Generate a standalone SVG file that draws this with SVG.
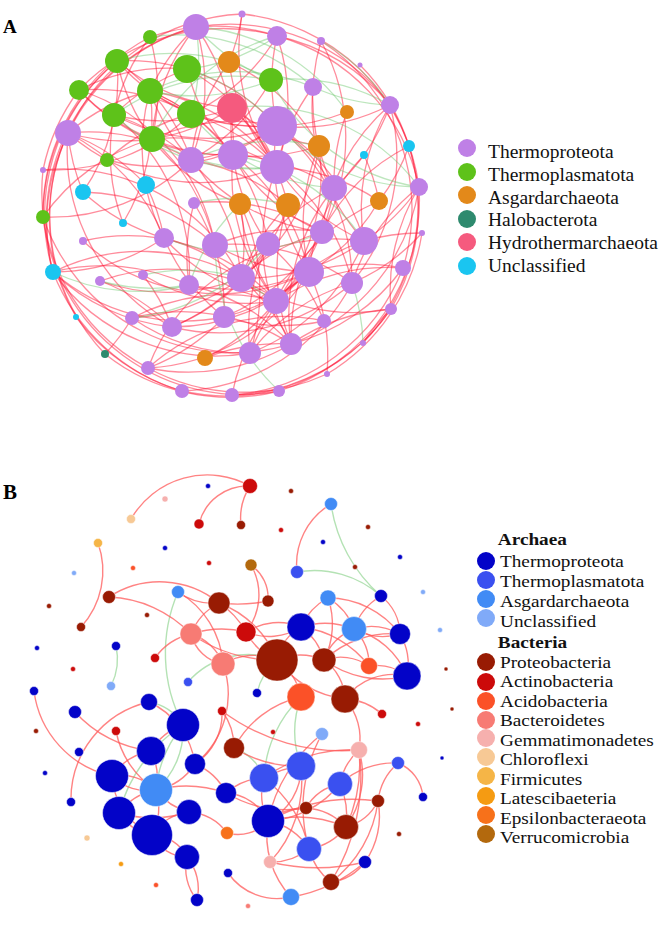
<svg xmlns="http://www.w3.org/2000/svg" width="661" height="929" viewBox="0 0 661 929">
<style>
.ra path{fill:none;stroke:#ff1a3a;stroke-opacity:.5;stroke-width:1.3}
.ga path{fill:none;stroke:#6cc86c;stroke-opacity:.45;stroke-width:1.3}
.rb path{fill:none;stroke:#ff5a5a;stroke-opacity:.75;stroke-width:1.4}
.gb path{fill:none;stroke:#9bd89b;stroke-opacity:.75;stroke-width:1.4}
.pu{fill:#bf80e6}.gr{fill:#5ec21a}.or{fill:#e3891a}.hb{fill:#2e8a6e}.hy{fill:#f55a7e}.cy{fill:#1ac5f0}
.tp{fill:#0303c8}.tpl{fill:#3a50f0}.asg{fill:#418bf5}.unc{fill:#80aaf8}.pro{fill:#981b03}.act{fill:#cc0a0a}.aci{fill:#fb5128}.bac{fill:#f77b74}.gem{fill:#f6b0ae}.chl{fill:#f7c995}.fir{fill:#f5b547}.lat{fill:#f59b12}.eps{fill:#f7711a}.ver{fill:#b3690d}
#nodesB circle{stroke:#ffffff;stroke-opacity:.6;stroke-width:.8}
text{font-family:"Liberation Serif","Times New Roman",serif;fill:#111}
.lbl{font-weight:bold;fill:#000}
.lg{font-size:19.5px}
.lgb{font-size:17.5px}
.lh{font-size:17.5px;font-weight:bold}
</style>
<rect width="661" height="929" fill="#ffffff"/>
<text class="lbl" x="3" y="33" font-size="19">A</text>
<text class="lbl" x="3" y="499" font-size="21">B</text>
<g id="connectors">
<g class="ra">
<path d="M53 272A200 200 0 0 1 196 27"/><path d="M43 217A200 200 0 0 1 150 37"/><path d="M53 272A200 200 0 0 1 117 61"/><path d="M68 133A200 200 0 0 1 242 14"/><path d="M79 90A200 200 0 0 1 277 36"/><path d="M105 354A200 200 0 0 1 68 133"/><path d="M182 391A200 200 0 0 1 53 272"/><path d="M279 391A200 200 0 0 1 43 217"/><path d="M148 368A200 200 0 0 1 43 170"/><path d="M76 317A200 200 0 0 1 68 133"/><path d="M196 27A200 200 0 0 1 390 105"/><path d="M277 36A200 200 0 0 1 419 187"/><path d="M321 41A200 200 0 0 1 403 268"/><path d="M390 105A200 200 0 0 1 391 309"/><path d="M419 187A200 200 0 0 1 279 391"/><path d="M403 268A200 200 0 0 1 232 395"/><path d="M391 309A200 200 0 0 1 182 391"/><path d="M422 233A200 200 0 0 1 327 374"/><path d="M409 146A200 200 0 0 1 363 343"/><path d="M360 65A200 200 0 0 1 409 146"/><path d="M277 36A200 200 0 0 1 390 105"/><path d="M68 133A200 200 0 0 1 196 27"/><path d="M43 170A200 200 0 0 1 79 90"/><path d="M53 272A200 200 0 0 1 68 133"/><path d="M250 353A200 200 0 0 1 53 272"/><path d="M291 344A200 200 0 0 1 43 217"/><path d="M279 391A200 200 0 0 1 105 354"/><path d="M182 391A200 200 0 0 1 76 317"/><path d="M242 14A200 200 0 0 1 419 187"/><path d="M150 37A200 200 0 0 1 277 36"/><path d="M43 217A200 200 0 0 1 117 61"/><path d="M327 374A200 200 0 0 1 148 368"/>
<path d="M68 133A200 200 0 0 1 150 91"/><path d="M68 133A200 200 0 0 0 152 139"/><path d="M68 133A200 200 0 0 1 191 160"/><path d="M68 133A200 200 0 0 0 277 167"/><path d="M68 133A200 200 0 0 1 164 238"/><path d="M68 133A200 200 0 0 0 172 327"/><path d="M79 90A200 200 0 0 1 191 114"/><path d="M79 90A200 200 0 0 0 152 139"/><path d="M79 90A200 200 0 0 1 187 69"/><path d="M79 90A200 200 0 0 0 233 155"/><path d="M79 90A200 200 0 0 1 215 245"/><path d="M117 61A200 200 0 0 0 191 114"/><path d="M117 61A200 200 0 0 1 191 160"/><path d="M117 61A200 200 0 0 0 232 108"/><path d="M117 61A200 200 0 0 1 277 126"/><path d="M117 61A200 200 0 0 0 152 139"/><path d="M150 91A200 200 0 0 1 191 114"/><path d="M150 91A200 200 0 0 0 191 160"/><path d="M150 91A200 200 0 0 1 233 155"/><path d="M150 91A200 200 0 0 0 277 126"/><path d="M150 91A200 200 0 0 1 277 167"/><path d="M150 91A200 200 0 0 0 164 238"/><path d="M114 115A200 200 0 0 1 187 69"/><path d="M114 115A200 200 0 0 0 232 108"/><path d="M114 115A200 200 0 0 1 191 160"/><path d="M114 115A200 200 0 0 0 277 126"/><path d="M114 115A200 200 0 0 1 189 285"/><path d="M152 139A200 200 0 0 0 232 108"/><path d="M152 139A200 200 0 0 1 277 126"/><path d="M152 139A200 200 0 0 0 233 155"/><path d="M152 139A200 200 0 0 1 277 167"/><path d="M152 139A200 200 0 0 0 240 204"/><path d="M152 139A200 200 0 0 1 215 245"/><path d="M191 114A200 200 0 0 0 277 126"/><path d="M191 114A200 200 0 0 1 277 167"/><path d="M191 114A200 200 0 0 0 277 36"/><path d="M191 114A200 200 0 0 1 268 244"/><path d="M191 160A200 200 0 0 0 277 126"/><path d="M191 160A200 200 0 0 1 288 205"/><path d="M191 160A200 200 0 0 0 322 232"/><path d="M191 160A200 200 0 0 1 241 278"/><path d="M233 155A200 200 0 0 0 319 146"/><path d="M233 155A200 200 0 0 1 334 188"/><path d="M233 155A200 200 0 0 0 322 232"/><path d="M233 155A200 200 0 0 1 309 272"/><path d="M233 155A200 200 0 0 0 276 301"/><path d="M232 108A200 200 0 0 1 277 167"/><path d="M232 108A200 200 0 0 0 319 146"/><path d="M232 108A200 200 0 0 1 288 205"/><path d="M232 108A200 200 0 0 0 268 244"/><path d="M277 126A200 200 0 0 1 334 188"/><path d="M277 126A200 200 0 0 0 390 105"/><path d="M277 126A200 200 0 0 1 364 241"/><path d="M277 126A200 200 0 0 0 309 272"/><path d="M277 126A200 200 0 0 1 352 283"/><path d="M277 167A200 200 0 0 0 364 241"/><path d="M277 167A200 200 0 0 1 352 283"/><path d="M277 167A200 200 0 0 0 291 344"/><path d="M277 167A200 200 0 0 1 379 201"/><path d="M196 27A200 200 0 0 0 150 91"/><path d="M196 27A200 200 0 0 1 191 160"/><path d="M196 27A200 200 0 0 0 152 139"/><path d="M196 27A200 200 0 0 1 233 155"/><path d="M150 37A200 200 0 0 0 114 115"/><path d="M150 37A200 200 0 0 1 152 139"/><path d="M229 62A200 200 0 0 0 277 167"/><path d="M229 62A200 200 0 0 1 319 146"/><path d="M277 36A200 200 0 0 0 277 126"/><path d="M277 36A200 200 0 0 1 277 167"/><path d="M321 41A200 200 0 0 0 334 188"/><path d="M321 41A200 200 0 0 1 322 232"/><path d="M313 87A200 200 0 0 0 364 241"/><path d="M390 105A200 200 0 0 1 334 188"/><path d="M390 105A200 200 0 0 0 364 241"/><path d="M390 105A200 200 0 0 1 352 283"/><path d="M390 105A200 200 0 0 0 322 232"/><path d="M419 187A200 200 0 0 1 364 241"/><path d="M419 187A200 200 0 0 0 352 283"/><path d="M419 187A200 200 0 0 1 291 344"/><path d="M419 187A200 200 0 0 0 391 309"/><path d="M409 146A200 200 0 0 1 379 201"/><path d="M409 146A200 200 0 0 0 322 232"/><path d="M364 155A200 200 0 0 1 379 201"/><path d="M364 155A200 200 0 0 0 309 272"/><path d="M319 146A200 200 0 0 1 241 278"/><path d="M319 146A200 200 0 0 0 309 272"/><path d="M319 146A200 200 0 0 1 276 301"/><path d="M334 188A200 200 0 0 0 241 278"/><path d="M334 188A200 200 0 0 1 276 301"/><path d="M334 188A200 200 0 0 0 291 344"/><path d="M240 204A200 200 0 0 1 241 278"/><path d="M240 204A200 200 0 0 0 276 301"/><path d="M240 204A200 200 0 0 1 250 353"/><path d="M288 205A200 200 0 0 0 241 278"/><path d="M288 205A200 200 0 0 1 172 327"/><path d="M288 205A200 200 0 0 0 291 344"/><path d="M379 201A200 200 0 0 1 309 272"/><path d="M379 201A200 200 0 0 0 276 301"/><path d="M268 244A200 200 0 0 1 172 327"/><path d="M268 244A200 200 0 0 0 250 353"/><path d="M268 244A200 200 0 0 1 324 321"/><path d="M322 232A200 200 0 0 0 241 278"/><path d="M322 232A200 200 0 0 1 224 317"/><path d="M322 232A200 200 0 0 0 291 344"/><path d="M364 241A200 200 0 0 1 241 278"/><path d="M364 241A200 200 0 0 0 276 301"/><path d="M364 241A200 200 0 0 1 250 353"/><path d="M403 268A200 200 0 0 0 309 272"/><path d="M403 268A200 200 0 0 1 291 344"/><path d="M403 268A200 200 0 0 0 276 301"/><path d="M241 278A200 200 0 0 1 291 344"/><path d="M241 278A200 200 0 0 0 391 309"/><path d="M309 272A200 200 0 0 1 224 317"/><path d="M309 272A200 200 0 0 0 250 353"/><path d="M309 272A200 200 0 0 1 148 368"/><path d="M352 283A200 200 0 0 0 250 353"/><path d="M352 283A200 200 0 0 1 172 327"/><path d="M276 301A200 200 0 0 0 132 318"/><path d="M276 301A200 200 0 0 1 205 358"/><path d="M391 309A200 200 0 0 0 291 344"/><path d="M324 321A200 200 0 0 1 224 317"/><path d="M324 321A200 200 0 0 0 148 368"/><path d="M291 344A200 200 0 0 1 148 368"/><path d="M291 344A200 200 0 0 0 205 358"/><path d="M250 353A200 200 0 0 1 132 318"/><path d="M194 203A200 200 0 0 0 189 285"/><path d="M194 203A200 200 0 0 1 224 317"/><path d="M164 238A200 200 0 0 0 224 317"/><path d="M164 238A200 200 0 0 1 241 278"/><path d="M164 238A200 200 0 0 0 276 301"/><path d="M215 245A200 200 0 0 1 322 232"/><path d="M215 245A200 200 0 0 0 309 272"/><path d="M215 245A200 200 0 0 1 352 283"/><path d="M53 272A200 200 0 0 0 164 238"/><path d="M53 272A200 200 0 0 1 189 285"/><path d="M53 272A200 200 0 0 0 172 327"/><path d="M53 272A200 200 0 0 1 241 278"/><path d="M53 272A200 200 0 0 0 224 317"/><path d="M100 281A200 200 0 0 1 172 327"/><path d="M100 281A200 200 0 0 0 241 278"/><path d="M143 275A200 200 0 0 1 172 327"/><path d="M189 285A200 200 0 0 0 309 272"/><path d="M189 285A200 200 0 0 1 291 344"/><path d="M132 318A200 200 0 0 0 241 278"/><path d="M132 318A200 200 0 0 1 291 344"/><path d="M172 327A200 200 0 0 0 309 272"/><path d="M224 317A200 200 0 0 1 148 368"/><path d="M105 354A200 200 0 0 0 132 318"/><path d="M83 192A200 200 0 0 1 68 133"/><path d="M83 192A200 200 0 0 0 164 238"/><path d="M83 192A200 200 0 0 1 215 245"/><path d="M83 192A200 200 0 0 0 117 61"/><path d="M146 185A200 200 0 0 1 164 238"/><path d="M146 185A200 200 0 0 0 68 133"/><path d="M43 217A200 200 0 0 1 152 139"/><path d="M43 217A200 200 0 0 0 191 160"/><path d="M123 223A200 200 0 0 1 114 115"/><path d="M123 223A200 200 0 0 0 150 91"/><path d="M83 241A200 200 0 0 1 276 301"/><path d="M83 241A200 200 0 0 0 309 272"/><path d="M43 170A200 200 0 0 1 241 278"/><path d="M43 170A200 200 0 0 0 191 114"/><path d="M242 14A200 200 0 0 1 229 62"/><path d="M242 14A200 200 0 0 0 277 167"/><path d="M422 233A200 200 0 0 1 352 283"/><path d="M422 233A200 200 0 0 0 364 241"/><path d="M363 343A200 200 0 0 1 391 309"/><path d="M327 374A200 200 0 0 0 309 272"/><path d="M107 160A200 200 0 0 1 191 114"/><path d="M107 160A200 200 0 0 0 277 126"/><path d="M148 368A200 200 0 0 1 364 241"/><path d="M182 391A200 200 0 0 0 352 283"/><path d="M232 395A200 200 0 0 1 309 272"/><path d="M232 395A200 200 0 0 0 391 309"/><path d="M194 203A200 200 0 0 1 322 232"/><path d="M143 275A200 200 0 0 0 276 301"/><path d="M100 281A200 200 0 0 1 276 301"/><path d="M313 87A200 200 0 0 0 277 167"/><path d="M347 112A200 200 0 0 1 277 126"/><path d="M347 112A200 200 0 0 0 334 188"/><path d="M271 80A200 200 0 0 1 191 160"/><path d="M187 69A200 200 0 0 0 233 155"/><path d="M187 69A200 200 0 0 1 277 167"/><path d="M229 62A200 200 0 0 0 191 160"/>
</g>
<g class="ga">
<path d="M196 27A200 200 0 0 1 191 114"/><path d="M196 27A200 200 0 0 0 271 80"/><path d="M277 36A200 200 0 0 0 152 139"/><path d="M277 36A200 200 0 0 1 187 69"/><path d="M271 80A200 200 0 0 0 114 115"/><path d="M271 80A200 200 0 0 1 150 91"/><path d="M271 80A200 200 0 0 1 390 105"/><path d="M313 87A200 200 0 0 0 390 105"/><path d="M321 41A200 200 0 0 1 390 105"/><path d="M271 80A200 200 0 0 0 419 187"/><path d="M187 69A200 200 0 0 1 277 126"/><path d="M191 114A200 200 0 0 0 334 188"/><path d="M152 139A200 200 0 0 0 277 167"/><path d="M191 160A200 200 0 0 1 319 146"/><path d="M233 155A200 200 0 0 1 364 241"/><path d="M232 108A200 200 0 0 1 419 187"/><path d="M277 126A200 200 0 0 0 419 187"/><path d="M53 272A200 200 0 0 0 189 285"/><path d="M114 115A200 200 0 0 0 277 167"/><path d="M164 238A200 200 0 0 0 322 232"/><path d="M189 285A200 200 0 0 1 240 204"/><path d="M132 318A200 200 0 0 0 268 244"/><path d="M150 91A200 200 0 0 1 313 87"/><path d="M117 61A200 200 0 0 1 271 80"/><path d="M150 37A200 200 0 0 1 313 87"/><path d="M196 27A200 200 0 0 1 347 112"/><path d="M241 278A200 200 0 0 0 276 301"/><path d="M194 203A200 200 0 0 1 288 205"/><path d="M215 245A200 200 0 0 0 279 391"/><path d="M352 283A200 200 0 0 1 363 343"/><path d="M143 275A200 200 0 0 1 241 278"/><path d="M100 281A200 200 0 0 0 189 285"/>
</g>
<g class="gb">
<path d="M331 504A150 150 0 0 0 381 596"/><path d="M297 572A100 100 0 0 1 381 596"/><path d="M178 592A155 155 0 0 0 183 725"/><path d="M116 646A60 60 0 0 1 111 686"/><path d="M188 682A80 80 0 0 1 277 660"/><path d="M257 693A60 60 0 0 1 277 660"/><path d="M301 697A120 120 0 0 0 264 778"/><path d="M301 697A100 100 0 0 0 301 766"/><path d="M234 748A50 50 0 0 1 264 778"/><path d="M149 702A50 50 0 0 1 183 725"/><path d="M183 725A80 80 0 0 1 156 790"/><path d="M183 725A120 120 0 0 0 156 790"/><path d="M183 725A150 150 0 0 0 119 813"/>
</g>
<g class="rb">
<path d="M131 519A88 88 0 0 1 250 486"/><path d="M199 524A50 50 0 0 1 250 486"/><path d="M250 486A60 60 0 0 0 241 525"/><path d="M98 543A83 83 0 0 1 81 627"/><path d="M109 597A93 93 0 0 1 219 603"/><path d="M109 597A120 120 0 0 1 191 634"/><path d="M178 592A60 60 0 0 0 219 603"/><path d="M178 592A90 90 0 0 1 223 664"/><path d="M191 634A60 60 0 0 0 155 658"/><path d="M191 634A60 60 0 0 1 219 603"/><path d="M191 634A40 40 0 0 0 223 664"/><path d="M191 634A50 50 0 0 1 223 664"/><path d="M191 634A100 100 0 0 1 246 632"/><path d="M219 603A80 80 0 0 1 246 632"/><path d="M251 565A40 40 0 0 1 268 601"/><path d="M251 565A60 60 0 0 1 246 632"/><path d="M219 603A150 150 0 0 0 268 601"/><path d="M331 504A70 70 0 0 0 297 572"/><path d="M328 598A60 60 0 0 0 301 627"/><path d="M328 598A60 60 0 0 1 354 629"/><path d="M328 598A80 80 0 0 1 324 660"/><path d="M328 598A90 90 0 0 1 400 634"/><path d="M381 596A50 50 0 0 1 400 634"/><path d="M381 596A60 60 0 0 0 354 629"/><path d="M246 632A60 60 0 0 1 301 627"/><path d="M246 632A60 60 0 0 0 301 627"/><path d="M246 632A60 60 0 0 0 277 660"/><path d="M301 627A80 80 0 0 1 354 629"/><path d="M301 627A60 60 0 0 1 324 660"/><path d="M301 627A50 50 0 0 0 277 660"/><path d="M301 627A100 100 0 0 1 369 666"/><path d="M354 629A60 60 0 0 1 400 634"/><path d="M354 629A60 60 0 0 0 400 634"/><path d="M354 629A50 50 0 0 1 369 666"/><path d="M354 629A80 80 0 0 1 407 676"/><path d="M354 629A50 50 0 0 0 324 660"/><path d="M400 634A60 60 0 0 1 407 676"/><path d="M400 634A100 100 0 0 0 324 660"/><path d="M277 660A60 60 0 0 1 324 660"/><path d="M277 660A60 60 0 0 1 301 697"/><path d="M277 660A60 60 0 0 0 223 664"/><path d="M277 660A100 100 0 0 0 345 699"/><path d="M324 660A50 50 0 0 1 369 666"/><path d="M324 660A50 50 0 0 1 345 699"/><path d="M369 666A50 50 0 0 1 407 676"/><path d="M324 660A100 100 0 0 0 407 676"/><path d="M219 603A100 100 0 0 1 277 660"/><path d="M223 664A90 90 0 0 1 195 764"/><path d="M34 691A100 100 0 0 0 112 776"/><path d="M75 712A120 120 0 0 0 151 751"/><path d="M149 702A100 100 0 0 0 71 802"/><path d="M149 702A80 80 0 0 1 195 764"/><path d="M116 731A90 90 0 0 0 156 790"/><path d="M151 751A60 60 0 0 0 112 776"/><path d="M151 751A60 60 0 0 1 156 790"/><path d="M112 776A50 50 0 0 1 156 790"/><path d="M112 776A50 50 0 0 0 156 790"/><path d="M112 776A70 70 0 0 0 152 835"/><path d="M156 790A120 120 0 0 1 226 793"/><path d="M156 790A60 60 0 0 0 189 812"/><path d="M156 790A60 60 0 0 1 152 835"/><path d="M119 813A50 50 0 0 0 152 835"/><path d="M189 812A50 50 0 0 1 227 833"/><path d="M189 812A50 50 0 0 0 152 835"/><path d="M152 835A40 40 0 0 1 187 857"/><path d="M152 835A40 40 0 0 0 187 857"/><path d="M187 857A50 50 0 0 1 197 900"/><path d="M187 857A50 50 0 0 0 197 900"/><path d="M195 764A60 60 0 0 1 156 790"/><path d="M195 764A60 60 0 0 1 226 793"/><path d="M222 711A60 60 0 0 1 195 764"/><path d="M222 711A60 60 0 0 1 234 748"/><path d="M183 725A60 60 0 0 0 151 751"/><path d="M119 813A120 120 0 0 0 189 812"/><path d="M119 813A60 60 0 0 1 156 790"/><path d="M222 711A200 200 0 0 0 359 750"/><path d="M301 697A100 100 0 0 0 234 748"/><path d="M345 699A60 60 0 0 1 359 750"/><path d="M345 699A60 60 0 0 1 382 714"/><path d="M345 699A60 60 0 0 1 407 676"/><path d="M234 748A120 120 0 0 0 301 766"/><path d="M322 734A150 150 0 0 0 309 849"/><path d="M322 734A150 150 0 0 0 268 821"/><path d="M359 750A60 60 0 0 0 340 784"/><path d="M359 750A90 90 0 0 1 346 827"/><path d="M359 750A150 150 0 0 1 346 827"/><path d="M359 750A200 200 0 0 1 331 882"/><path d="M359 750A150 150 0 0 0 264 778"/><path d="M398 763A40 40 0 0 1 423 797"/><path d="M398 763A60 60 0 0 0 378 801"/><path d="M398 763A80 80 0 0 0 340 784"/><path d="M378 801A50 50 0 0 1 346 827"/><path d="M378 801A80 80 0 0 1 365 862"/><path d="M378 801A120 120 0 0 1 331 882"/><path d="M378 801A180 180 0 0 0 268 821"/><path d="M306 808A60 60 0 0 0 268 821"/><path d="M306 808A60 60 0 0 1 346 827"/><path d="M306 808A50 50 0 0 1 340 784"/><path d="M268 821A40 40 0 0 1 227 833"/><path d="M268 821A50 50 0 0 0 226 793"/><path d="M268 821A60 60 0 0 1 264 778"/><path d="M268 821A60 60 0 0 0 301 766"/><path d="M268 821A60 60 0 0 1 309 849"/><path d="M268 821A90 90 0 0 0 291 897"/><path d="M268 821A120 120 0 0 1 346 827"/><path d="M268 821A100 100 0 0 0 340 784"/><path d="M226 793A60 60 0 0 1 264 778"/><path d="M226 793A120 120 0 0 0 306 808"/><path d="M309 849A60 60 0 0 1 270 862"/><path d="M270 862A200 200 0 0 0 365 862"/><path d="M309 849A60 60 0 0 0 346 827"/><path d="M309 849A60 60 0 0 0 331 882"/><path d="M270 862A120 120 0 0 0 301 766"/><path d="M228 873A60 60 0 0 0 291 897"/><path d="M331 882A50 50 0 0 0 365 862"/><path d="M291 897A150 150 0 0 0 365 862"/><path d="M264 778A100 100 0 0 1 301 766"/><path d="M264 778A120 120 0 0 1 309 849"/><path d="M340 784A80 80 0 0 1 346 827"/><path d="M191 634A150 150 0 0 0 277 660"/>
</g>
</g>
<g id="nodesA">
<g id="a1"><circle class="pu" cx="196" cy="27" r="13"/></g>
<g id="a2"><circle class="gr" cx="150" cy="37" r="7"/></g>
<g id="a3"><circle class="gr" cx="117" cy="61" r="12"/></g>
<g id="a4"><circle class="gr" cx="187" cy="69" r="14"/></g>
<g id="a5"><circle class="or" cx="229" cy="62" r="11"/></g>
<g id="a6"><circle class="gr" cx="79" cy="90" r="10"/></g>
<g id="a7"><circle class="gr" cx="150" cy="91" r="13"/></g>
<g id="a8"><circle class="hy" cx="232" cy="108" r="15"/></g>
<g id="a9"><circle class="gr" cx="114" cy="115" r="12"/></g>
<g id="a10"><circle class="gr" cx="191" cy="114" r="14"/></g>
<g id="a11"><circle class="pu" cx="68" cy="133" r="13"/></g>
<g id="a12"><circle class="gr" cx="152" cy="139" r="13"/></g>
<g id="a13"><circle class="gr" cx="107" cy="160" r="7"/></g>
<g id="a14"><circle class="pu" cx="191" cy="160" r="13"/></g>
<g id="a15"><circle class="pu" cx="233" cy="155" r="15"/></g>
<g id="a16"><circle class="pu" cx="43" cy="170" r="3"/></g>
<g id="a17"><circle class="cy" cx="83" cy="192" r="8"/></g>
<g id="a18"><circle class="cy" cx="146" cy="185" r="9"/></g>
<g id="a19"><circle class="pu" cx="242" cy="14" r="3.5"/></g>
<g id="a20"><circle class="pu" cx="277" cy="36" r="10"/></g>
<g id="a21"><circle class="pu" cx="321" cy="41" r="4"/></g>
<g id="a22"><circle class="pu" cx="360" cy="65" r="2.5"/></g>
<g id="a23"><circle class="gr" cx="271" cy="80" r="12"/></g>
<g id="a24"><circle class="pu" cx="313" cy="87" r="9"/></g>
<g id="a25"><circle class="or" cx="347" cy="112" r="7"/></g>
<g id="a26"><circle class="pu" cx="390" cy="105" r="9"/></g>
<g id="a27"><circle class="pu" cx="277" cy="126" r="20"/></g>
<g id="a28"><circle class="or" cx="319" cy="146" r="11"/></g>
<g id="a29"><circle class="cy" cx="409" cy="146" r="6"/></g>
<g id="a30"><circle class="cy" cx="364" cy="155" r="4"/></g>
<g id="a31"><circle class="pu" cx="277" cy="167" r="17"/></g>
<g id="a32"><circle class="pu" cx="334" cy="188" r="13"/></g>
<g id="a33"><circle class="pu" cx="419" cy="187" r="9"/></g>
<g id="a34"><circle class="gr" cx="43" cy="217" r="7"/></g>
<g id="a35"><circle class="cy" cx="123" cy="223" r="4"/></g>
<g id="a36"><circle class="pu" cx="194" cy="203" r="6"/></g>
<g id="a37"><circle class="pu" cx="83" cy="241" r="4"/></g>
<g id="a38"><circle class="pu" cx="164" cy="238" r="10"/></g>
<g id="a39"><circle class="pu" cx="215" cy="245" r="13"/></g>
<g id="a40"><circle class="cy" cx="53" cy="272" r="8"/></g>
<g id="a41"><circle class="pu" cx="100" cy="281" r="5"/></g>
<g id="a42"><circle class="pu" cx="143" cy="275" r="5"/></g>
<g id="a43"><circle class="pu" cx="189" cy="285" r="10"/></g>
<g id="a44"><circle class="cy" cx="76" cy="317" r="3"/></g>
<g id="a45"><circle class="pu" cx="132" cy="318" r="7"/></g>
<g id="a46"><circle class="pu" cx="172" cy="327" r="10"/></g>
<g id="a47"><circle class="pu" cx="224" cy="317" r="11"/></g>
<g id="a48"><circle class="hb" cx="105" cy="354" r="4"/></g>
<g id="a49"><circle class="or" cx="205" cy="358" r="8"/></g>
<g id="a50"><circle class="pu" cx="148" cy="368" r="7"/></g>
<g id="a51"><circle class="pu" cx="182" cy="391" r="7"/></g>
<g id="a52"><circle class="or" cx="240" cy="204" r="11"/></g>
<g id="a53"><circle class="or" cx="288" cy="205" r="12"/></g>
<g id="a54"><circle class="or" cx="379" cy="201" r="9"/></g>
<g id="a55"><circle class="pu" cx="422" cy="233" r="3"/></g>
<g id="a56"><circle class="pu" cx="268" cy="244" r="12"/></g>
<g id="a57"><circle class="pu" cx="322" cy="232" r="12"/></g>
<g id="a58"><circle class="pu" cx="364" cy="241" r="14"/></g>
<g id="a59"><circle class="pu" cx="403" cy="268" r="8"/></g>
<g id="a60"><circle class="pu" cx="241" cy="278" r="14"/></g>
<g id="a61"><circle class="pu" cx="309" cy="272" r="15"/></g>
<g id="a62"><circle class="pu" cx="352" cy="283" r="11"/></g>
<g id="a63"><circle class="pu" cx="276" cy="301" r="13"/></g>
<g id="a64"><circle class="pu" cx="391" cy="309" r="6"/></g>
<g id="a65"><circle class="pu" cx="324" cy="321" r="7"/></g>
<g id="a66"><circle class="pu" cx="363" cy="343" r="3"/></g>
<g id="a67"><circle class="pu" cx="291" cy="344" r="11"/></g>
<g id="a68"><circle class="pu" cx="250" cy="353" r="11"/></g>
<g id="a69"><circle class="pu" cx="327" cy="374" r="3"/></g>
<g id="a70"><circle class="pu" cx="279" cy="391" r="6"/></g>
<g id="a71"><circle class="pu" cx="232" cy="395" r="7"/></g>
</g>
<g id="nodesB">
<g id="b1"><circle class="tp" cx="208" cy="486" r="2.5"/></g>
<g id="b2"><circle class="gem" cx="165" cy="499" r="3"/></g>
<g id="b3"><circle class="chl" cx="131" cy="519" r="4.5"/></g>
<g id="b4"><circle class="act" cx="199" cy="524" r="5"/></g>
<g id="b5"><circle class="fir" cx="98" cy="543" r="4.5"/></g>
<g id="b6"><circle class="tp" cx="165" cy="548" r="2.5"/></g>
<g id="b7"><circle class="aci" cx="133" cy="568" r="2.5"/></g>
<g id="b8"><circle class="act" cx="209" cy="563" r="2.5"/></g>
<g id="b9"><circle class="unc" cx="74" cy="573" r="2.5"/></g>
<g id="b10"><circle class="pro" cx="109" cy="597" r="6.5"/></g>
<g id="b11"><circle class="asg" cx="178" cy="592" r="6.5"/></g>
<g id="b12"><circle class="pro" cx="219" cy="603" r="11"/></g>
<g id="b13"><circle class="pro" cx="49" cy="606" r="2.5"/></g>
<g id="b14"><circle class="pro" cx="147" cy="615" r="2.5"/></g>
<g id="b15"><circle class="pro" cx="81" cy="627" r="4.5"/></g>
<g id="b16"><circle class="bac" cx="191" cy="634" r="11"/></g>
<g id="b17"><circle class="tp" cx="116" cy="646" r="4.5"/></g>
<g id="b18"><circle class="tp" cx="37" cy="648" r="2.5"/></g>
<g id="b19"><circle class="act" cx="155" cy="658" r="4.5"/></g>
<g id="b20"><circle class="bac" cx="223" cy="664" r="12"/></g>
<g id="b21"><circle class="act" cx="73" cy="669" r="2.5"/></g>
<g id="b22"><circle class="tpl" cx="188" cy="682" r="4.5"/></g>
<g id="b23"><circle class="unc" cx="111" cy="686" r="4.5"/></g>
<g id="b24"><circle class="tp" cx="34" cy="691" r="4.5"/></g>
<g id="b25"><circle class="act" cx="250" cy="486" r="7.5"/></g>
<g id="b26"><circle class="pro" cx="291" cy="491" r="2.5"/></g>
<g id="b27"><circle class="pro" cx="241" cy="525" r="4.5"/></g>
<g id="b28"><circle class="act" cx="281" cy="530" r="2.5"/></g>
<g id="b29"><circle class="asg" cx="331" cy="504" r="6.5"/></g>
<g id="b30"><circle class="pro" cx="368" cy="527" r="2.5"/></g>
<g id="b31"><circle class="tp" cx="323" cy="542" r="2.5"/></g>
<g id="b32"><circle class="tp" cx="400" cy="557" r="2.5"/></g>
<g id="b33"><circle class="ver" cx="251" cy="565" r="6"/></g>
<g id="b34"><circle class="tpl" cx="297" cy="572" r="6.5"/></g>
<g id="b35"><circle class="pro" cx="355" cy="567" r="2.5"/></g>
<g id="b36"><circle class="pro" cx="268" cy="601" r="6"/></g>
<g id="b37"><circle class="asg" cx="328" cy="598" r="8"/></g>
<g id="b38"><circle class="tp" cx="381" cy="596" r="6.5"/></g>
<g id="b39"><circle class="unc" cx="423" cy="592" r="2.5"/></g>
<g id="b40"><circle class="act" cx="246" cy="632" r="10"/></g>
<g id="b41"><circle class="tp" cx="301" cy="627" r="14"/></g>
<g id="b42"><circle class="asg" cx="354" cy="629" r="12.5"/></g>
<g id="b43"><circle class="tp" cx="400" cy="634" r="10.5"/></g>
<g id="b44"><circle class="unc" cx="440" cy="630" r="2.5"/></g>
<g id="b45"><circle class="pro" cx="277" cy="660" r="21"/></g>
<g id="b46"><circle class="pro" cx="324" cy="660" r="12"/></g>
<g id="b47"><circle class="aci" cx="369" cy="666" r="8.5"/></g>
<g id="b48"><circle class="tp" cx="407" cy="676" r="14"/></g>
<g id="b49"><circle class="pro" cx="446" cy="669" r="2"/></g>
<g id="b50"><circle class="pro" cx="452" cy="709" r="2"/></g>
<g id="b51"><circle class="tp" cx="442" cy="758" r="2"/></g>
<g id="b52"><circle class="tp" cx="149" cy="702" r="8.5"/></g>
<g id="b53"><circle class="tp" cx="75" cy="712" r="6.5"/></g>
<g id="b54"><circle class="pro" cx="36" cy="731" r="2.5"/></g>
<g id="b55"><circle class="act" cx="116" cy="731" r="4.5"/></g>
<g id="b56"><circle class="tp" cx="183" cy="725" r="16.5"/></g>
<g id="b57"><circle class="act" cx="222" cy="711" r="4.5"/></g>
<g id="b58"><circle class="tp" cx="79" cy="752" r="4.5"/></g>
<g id="b59"><circle class="tp" cx="151" cy="751" r="14.5"/></g>
<g id="b60"><circle class="tp" cx="195" cy="764" r="10.5"/></g>
<g id="b61"><circle class="tp" cx="45" cy="773" r="2.5"/></g>
<g id="b62"><circle class="tp" cx="112" cy="776" r="16.5"/></g>
<g id="b63"><circle class="asg" cx="156" cy="790" r="16.5"/></g>
<g id="b64"><circle class="tp" cx="71" cy="802" r="4.5"/></g>
<g id="b65"><circle class="tp" cx="119" cy="813" r="16.5"/></g>
<g id="b66"><circle class="tp" cx="189" cy="812" r="12.5"/></g>
<g id="b67"><circle class="chl" cx="87" cy="838" r="3"/></g>
<g id="b68"><circle class="tp" cx="152" cy="835" r="20.5"/></g>
<g id="b69"><circle class="lat" cx="121" cy="864" r="2.5"/></g>
<g id="b70"><circle class="tp" cx="187" cy="857" r="12.5"/></g>
<g id="b71"><circle class="aci" cx="156" cy="885" r="2.5"/></g>
<g id="b72"><circle class="tp" cx="197" cy="900" r="6.5"/></g>
<g id="b73"><circle class="tp" cx="257" cy="693" r="4.5"/></g>
<g id="b74"><circle class="aci" cx="301" cy="697" r="14"/></g>
<g id="b75"><circle class="pro" cx="345" cy="699" r="14"/></g>
<g id="b76"><circle class="act" cx="382" cy="714" r="4.5"/></g>
<g id="b77"><circle class="act" cx="273" cy="732" r="2.5"/></g>
<g id="b78"><circle class="act" cx="418" cy="724" r="2.5"/></g>
<g id="b79"><circle class="unc" cx="322" cy="734" r="6.5"/></g>
<g id="b80"><circle class="pro" cx="234" cy="748" r="10.5"/></g>
<g id="b81"><circle class="gem" cx="359" cy="750" r="8.5"/></g>
<g id="b82"><circle class="tpl" cx="398" cy="763" r="6.5"/></g>
<g id="b83"><circle class="tpl" cx="301" cy="766" r="14.5"/></g>
<g id="b84"><circle class="tpl" cx="264" cy="778" r="14.5"/></g>
<g id="b85"><circle class="tpl" cx="340" cy="784" r="12.5"/></g>
<g id="b86"><circle class="tp" cx="226" cy="793" r="10.5"/></g>
<g id="b87"><circle class="tp" cx="423" cy="797" r="4.5"/></g>
<g id="b88"><circle class="pro" cx="378" cy="801" r="6.5"/></g>
<g id="b89"><circle class="pro" cx="306" cy="808" r="6.5"/></g>
<g id="b90"><circle class="tp" cx="268" cy="821" r="16.5"/></g>
<g id="b91"><circle class="pro" cx="346" cy="827" r="12.5"/></g>
<g id="b92"><circle class="pro" cx="399" cy="834" r="2.5"/></g>
<g id="b93"><circle class="eps" cx="227" cy="833" r="6.5"/></g>
<g id="b94"><circle class="tpl" cx="309" cy="849" r="12.5"/></g>
<g id="b95"><circle class="gem" cx="270" cy="862" r="6.5"/></g>
<g id="b96"><circle class="tp" cx="365" cy="862" r="6.5"/></g>
<g id="b97"><circle class="tp" cx="228" cy="873" r="4.5"/></g>
<g id="b98"><circle class="pro" cx="331" cy="882" r="8.5"/></g>
<g id="b99"><circle class="asg" cx="291" cy="897" r="8.5"/></g>
<g id="b100"><circle class="bac" cx="248" cy="906" r="2.5"/></g>
</g>
<g id="legendA">
<circle class="pu" cx="467" cy="148" r="9"/><text class="lg" x="488" y="158">Thermoproteota</text>
<circle class="gr" cx="467" cy="172" r="9"/><text class="lg" x="488" y="181">Thermoplasmatota</text>
<circle class="or" cx="467" cy="195" r="9"/><text class="lg" x="488" y="204">Asgardarchaeota</text>
<circle class="hb" cx="467" cy="219" r="9"/><text class="lg" x="488" y="226">Halobacterota</text>
<circle class="hy" cx="467" cy="242" r="9"/><text class="lg" x="488" y="249">Hydrothermarchaeota</text>
<circle class="cy" cx="467" cy="266" r="9"/><text class="lg" x="488" y="272">Unclassified</text>
</g>
<g id="legendB">
<circle class="tp" cx="486" cy="561" r="9"/>
<circle class="tpl" cx="486" cy="580" r="9"/>
<circle class="asg" cx="486" cy="599" r="9"/>
<circle class="unc" cx="486" cy="618" r="9"/>
<circle class="pro" cx="486" cy="662" r="9"/>
<circle class="act" cx="486" cy="682" r="9"/>
<circle class="aci" cx="486" cy="701" r="9"/>
<circle class="bac" cx="486" cy="720" r="9"/>
<circle class="gem" cx="486" cy="738" r="9"/>
<circle class="chl" cx="486" cy="757" r="9"/>
<circle class="fir" cx="486" cy="776" r="9"/>
<circle class="lat" cx="486" cy="796" r="9"/>
<circle class="eps" cx="486" cy="815" r="9"/>
<circle class="ver" cx="486" cy="834" r="9"/>
<g transform="translate(500 0) scale(1.1 1)">
<text class="lh" x="-2" y="545">Archaea</text>
<text class="lgb" x="0" y="567">Thermoproteota</text>
<text class="lgb" x="0" y="587">Thermoplasmatota</text>
<text class="lgb" x="0" y="607">Asgardarchaeota</text>
<text class="lgb" x="0" y="627">Unclassified</text>
<text class="lh" x="-2" y="648">Bacteria</text>
<text class="lgb" x="0" y="668">Proteobacteria</text>
<text class="lgb" x="0" y="687.5">Actinobacteria</text>
<text class="lgb" x="0" y="707">Acidobacteria</text>
<text class="lgb" x="0" y="726.5">Bacteroidetes</text>
<text class="lgb" x="0" y="746">Gemmatimonadetes</text>
<text class="lgb" x="0" y="765.5">Chloroflexi</text>
<text class="lgb" x="0" y="785">Firmicutes</text>
<text class="lgb" x="0" y="804.5">Latescibaeteria</text>
<text class="lgb" x="0" y="824">Epsilonbacteraeota</text>
<text class="lgb" x="0" y="843.5">Verrucomicrobia</text>
</g>
</g>
</svg>
